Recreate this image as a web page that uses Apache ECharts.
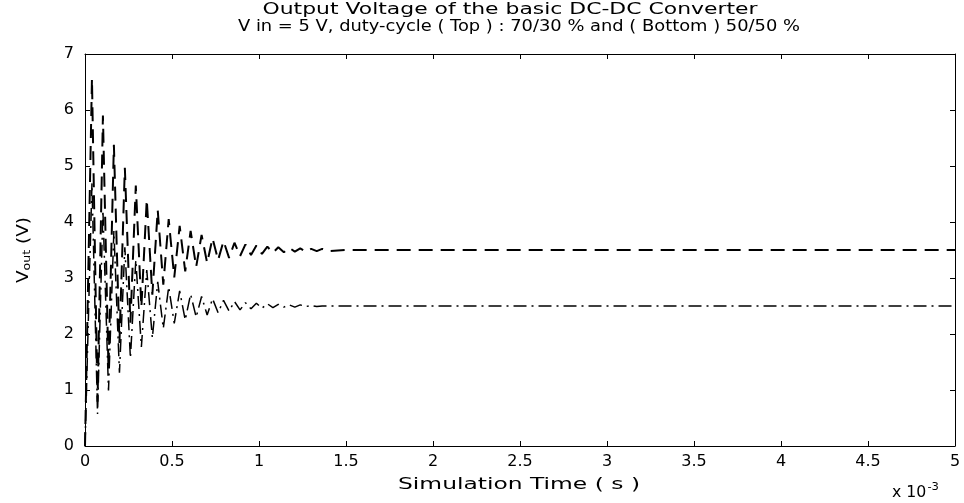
<!DOCTYPE html>
<html>
<head>
<meta charset="utf-8">
<script src="https://cdn.jsdelivr.net/npm/echarts@6/dist/echarts.min.js"></script>
<style>html,body{margin:0;padding:0;background:#fff}#c{width:964px;height:503px}</style>
</head>
<body>
<div id="c"></div>
<script>
// Time in units of 1e-3 s (axis shows "x 10^-3")
const timeMs = [0, 0.040, 0.072, 0.103, 0.135, 0.166, 0.198, 0.229, 0.261, 0.292, 0.324,
  0.355, 0.387, 0.418, 0.450, 0.481, 0.513, 0.544, 0.576, 0.607, 0.639,
  0.670, 0.702, 0.733, 0.765, 0.796, 0.828, 0.859, 0.891, 0.922, 0.954,
  0.985, 1.017, 1.048, 1.080, 1.111, 1.143, 1.174, 1.206, 1.237, 1.269,
  1.300, 1.332, 1.363, 1.395, 1.50, 5.00];
// Top: duty-cycle 70/30 (dashed)
const vTop = [0, 6.56, 0.79, 5.90, 1.38, 5.38, 1.84, 4.97, 2.20, 4.65, 2.48,
  4.40, 2.70, 4.21, 2.88, 4.05, 3.01, 3.93, 3.12, 3.84, 3.20,
  3.77, 3.27, 3.71, 3.32, 3.66, 3.36, 3.63, 3.39, 3.60, 3.41,
  3.58, 3.43, 3.56, 3.45, 3.55, 3.46, 3.54, 3.47, 3.53, 3.47,
  3.52, 3.48, 3.52, 3.48, 3.50, 3.50];
// Bottom: duty-cycle 50/50 (dash-dot)
const vBottom = [0, 4.69, 0.57, 4.21, 0.99, 3.84, 1.31, 3.55, 1.57, 3.32, 1.77,
  3.14, 1.93, 2.93, 2.10, 2.84, 2.19, 2.77, 2.25, 2.71, 2.30,
  2.67, 2.34, 2.63, 2.38, 2.60, 2.41, 2.58, 2.43, 2.56, 2.45,
  2.55, 2.46, 2.54, 2.47, 2.53, 2.48, 2.52, 2.48, 2.52, 2.49,
  2.51, 2.49, 2.50, 2.50, 2.50, 2.50];
const xTicks = ['0', '0.5', '1', '1.5', '2', '2.5', '3', '3.5', '4', '4.5', '5'];
const yTicks = ['0', '1', '2', '3', '4', '5', '6', '7'];
const titleLines = ['Output Voltage of the basic DC-DC Converter',
  'V in = 5 V, duty-cycle ( Top ) : 70/30 % and ( Bottom ) 50/50 %'];
const xName = 'Simulation Time ( s )';

const FONT = '"DejaVu Sans", "Liberation Sans", Arial, sans-serif';
const pairs = (xs, ys) => xs.map((x, i) => [x, ys[i]]);

// horizontal stretch so that text spans the same width as in the original figure
const mctx = document.createElement('canvas').getContext('2d');
function stretch(text, font, targetW) {
  mctx.font = font;
  return targetW / mctx.measureText(text).width;
}
const F15 = '15px ' + FONT;

const chart = echarts.init(document.getElementById('c'));
const axisCommon = {
  axisLine: { show: true, onZero: false, lineStyle: { color: '#000', width: 1 } },
  axisTick: { show: true, inside: true, length: 5, lineStyle: { color: '#000' } },
  splitLine: { show: false }
};
chart.setOption({
  animation: false,
  backgroundColor: '#fff',
  textStyle: { fontFamily: FONT, color: '#000' },
  grid: { left: 85, right: 9, top: 54, bottom: 57 },
  graphic: [
    { type: 'text', x: 510, y: 10, scaleX: stretch(titleLines[0], F15, 495),
      style: { text: titleLines[0], textAlign: 'center', verticalAlign: 'middle', textVerticalAlign: 'middle', font: F15, fill: '#000' } },
    { type: 'text', x: 519, y: 27, scaleX: stretch(titleLines[1], F15, 562),
      style: { text: titleLines[1], textAlign: 'center', verticalAlign: 'middle', textVerticalAlign: 'middle', font: F15, fill: '#000' } },
    { type: 'text', x: 519, y: 485, scaleX: stretch(xName, F15, 242),
      style: { text: xName, textAlign: 'center', verticalAlign: 'middle', textVerticalAlign: 'middle', font: F15, fill: '#000' } },
    { type: 'text', x: 24, y: 250, rotation: Math.PI / 2, scaleX: 1.15,
      style: { text: 'V{s|out} (V)', textAlign: 'center', verticalAlign: 'middle', textVerticalAlign: 'middle',
        font: '16px ' + FONT, fill: '#000',
        rich: { s: { fontSize: 11, fontFamily: FONT, fill: '#000', padding: [6, 0, 0, 0] } } } },
    { type: 'text', x: 892, y: 493, scaleX: 1.05,
      style: { text: '{a|x 10}{s|-3}', textAlign: 'left', verticalAlign: 'middle', textVerticalAlign: 'middle',
        rich: { a: { fontSize: 15, fontFamily: FONT, fill: '#000' },
                s: { fontSize: 11, fontFamily: FONT, fill: '#000', padding: [0, 0, 12, 1] } } } }
  ],
  xAxis: [
    Object.assign({
      type: 'value', min: 0, max: 5, interval: 0.5, position: 'bottom',
      axisLabel: { fontSize: 16, fontFamily: FONT, color: '#000', margin: 8,
        formatter: (v) => xTicks[Math.round(v / 0.5)] }
    }, axisCommon),
    Object.assign({ type: 'value', min: 0, max: 5, interval: 0.5, position: 'top', axisLabel: { show: false } }, axisCommon)
  ],
  yAxis: [
    Object.assign({
      type: 'value', min: 0, max: 7, interval: 1, position: 'left',
      axisLabel: { fontSize: 16, fontFamily: FONT, color: '#000', margin: 11,
        formatter: (v) => yTicks[v] }
    }, axisCommon),
    Object.assign({ type: 'value', min: 0, max: 7, interval: 1, position: 'right', axisLabel: { show: false } }, axisCommon)
  ],
  series: [
    { type: 'line', name: 'Top 70/30', data: pairs(timeMs, vTop), showSymbol: false, symbol: 'none',
      lineStyle: { color: '#000', width: 2, type: [14, 8] } },
    { type: 'line', name: 'Bottom 50/50', data: pairs(timeMs, vBottom), showSymbol: false, symbol: 'none',
      lineStyle: { color: '#000', width: 1.5, type: [13, 5, 2, 5] } }
  ]
});
</script>
</body>
</html>
